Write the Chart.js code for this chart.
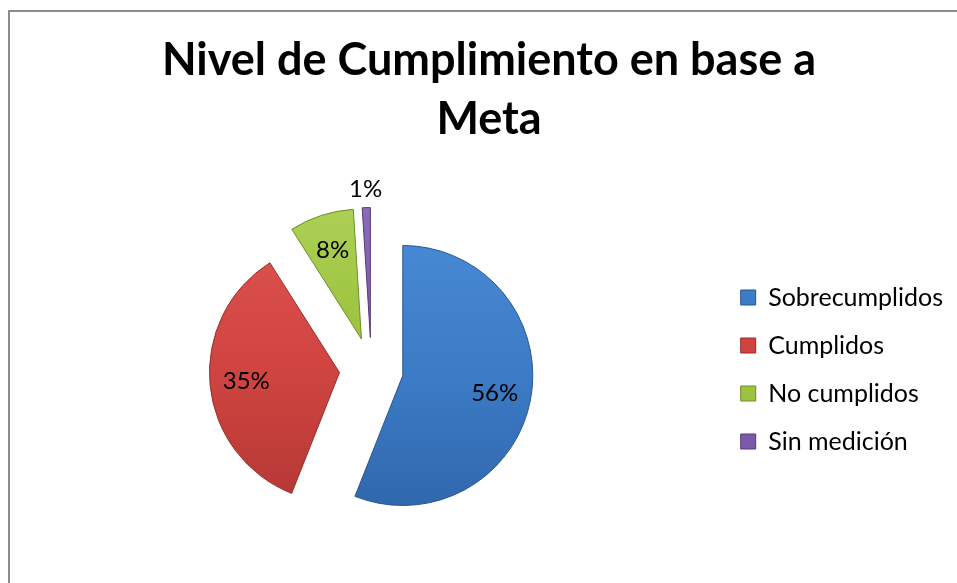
<!DOCTYPE html>
<html>
<head>
<meta charset="utf-8">
<script src="https://cdn.jsdelivr.net/npm/chart.js@4"></script>
<style>
  html, body { margin: 0; padding: 0; background: #fff; overflow: hidden; }
  #frame { position: absolute; left: 8px; top: 10px; width: 1100px; height: 800px; border: 2px solid #8c8c8c; }
  #wrap { position: absolute; left: 0; top: 0; width: 957px; height: 583px; }
</style>
</head>
<body>
<div id="frame"></div>
<div id="wrap"><canvas id="metaChart"></canvas></div>
<script>
const categories = ['Sobrecumplidos', 'Cumplidos', 'No cumplidos', 'Sin medición'];
const percentages = [56, 35, 8, 1];
const titleLines = ['Nivel de Cumplimiento en base a', 'Meta'];

// flat colour plus lighter/darker stops for the bevel-ish shading
const baseColors = ['#3c7bc6', '#cf4440', '#9cc23f', '#7c5aa8'];
const lightColors = ['#4a8cd8', '#e05550', '#b0d45a', '#8f6fbe'];
const darkColors = ['#2d62a5', '#ad3532', '#82a52e', '#614589'];
const edgeColors = ['#2a5690', '#992d2a', '#6f8c27', '#553c78'];

const SHIFT = 32;   // explode distance in px

Chart.defaults.font.family = 'Lato, "Open Sans", sans-serif';
Chart.defaults.color = '#000';

function sliceFill(ctx) {
    const chart = ctx.chart;
    const area = chart.chartArea;
    const i = ctx.dataIndex;
    if (!area || i === undefined) return baseColors[i] || '#888';
    const cy = (area.top + area.bottom) / 2;
    const g = chart.ctx.createLinearGradient(0, cy - 170, 0, cy + 170);
    g.addColorStop(0, lightColors[i]);
    g.addColorStop(0.5, baseColors[i]);
    g.addColorStop(1, darkColors[i]);
    return g;
}

// draw each slice pushed out along its middle angle
const explodePlugin = {
    id: 'explode',
    beforeDatasetDraw(chart, args) {
        const ctx = chart.ctx;
        args.meta.data.forEach(arc => {
            const mid = (arc.startAngle + arc.endAngle) / 2;
            ctx.save();
            ctx.translate(Math.cos(mid) * SHIFT, Math.sin(mid) * SHIFT);
            arc.draw(ctx);
            ctx.restore();
        });
        return false;
    }
};

// percentage labels
const pctLabels = {
    id: 'pctLabels',
    afterDatasetsDraw(chart) {
        const ctx = chart.ctx;
        const meta = chart.getDatasetMeta(0);
        const total = percentages.reduce((a, b) => a + b, 0);
        ctx.save();
        ctx.font = '24px Lato, "Open Sans", sans-serif';
        ctx.fillStyle = '#000';
        ctx.textAlign = 'center';
        ctx.textBaseline = 'middle';
        meta.data.forEach((arc, i) => {
            const pct = Math.round(percentages[i] / total * 100);
            const mid = (arc.startAngle + arc.endAngle) / 2;
            const dist = pct >= 3 ? SHIFT + arc.outerRadius * 0.72 : SHIFT + arc.outerRadius + 18;
            ctx.fillText(pct + '%', arc.x + Math.cos(mid) * dist, arc.y + Math.sin(mid) * dist);
        });
        ctx.restore();
    }
};

const ctx = document.getElementById('metaChart').getContext('2d');
const metaChart = new Chart(ctx, {
    type: 'pie',
    data: {
        labels: categories,
        datasets: [{
            data: percentages,
            backgroundColor: sliceFill,
            borderColor: edgeColors,
            borderWidth: 1
        }]
    },
    options: {
        responsive: true,
        maintainAspectRatio: false,
        animation: false,
        radius: 130,
        layout: { padding: { left: 25, right: 4, top: 10, bottom: 3 } },
        plugins: {
            tooltip: { enabled: false },
            title: {
                display: true,
                text: titleLines,
                font: { size: 45, weight: 'bold', lineHeight: 59 / 45 },
                padding: { top: 21, bottom: 10 }
            },
            legend: {
                position: 'right',
                fullSize: false,
                labels: {
                    boxWidth: 15,
                    boxHeight: 15,
                    padding: 23,
                    font: { size: 25 },
                    generateLabels(chart) {
                        const items = Chart.overrides.pie.plugins.legend.labels.generateLabels(chart);
                        return items.map((it, i) => Object.assign(it, {
                            fillStyle: baseColors[i],
                            strokeStyle: edgeColors[i],
                            lineWidth: 1
                        }));
                    }
                }
            }
        }
    },
    plugins: [explodePlugin, pctLabels]
});
</script>
</body>
</html>
